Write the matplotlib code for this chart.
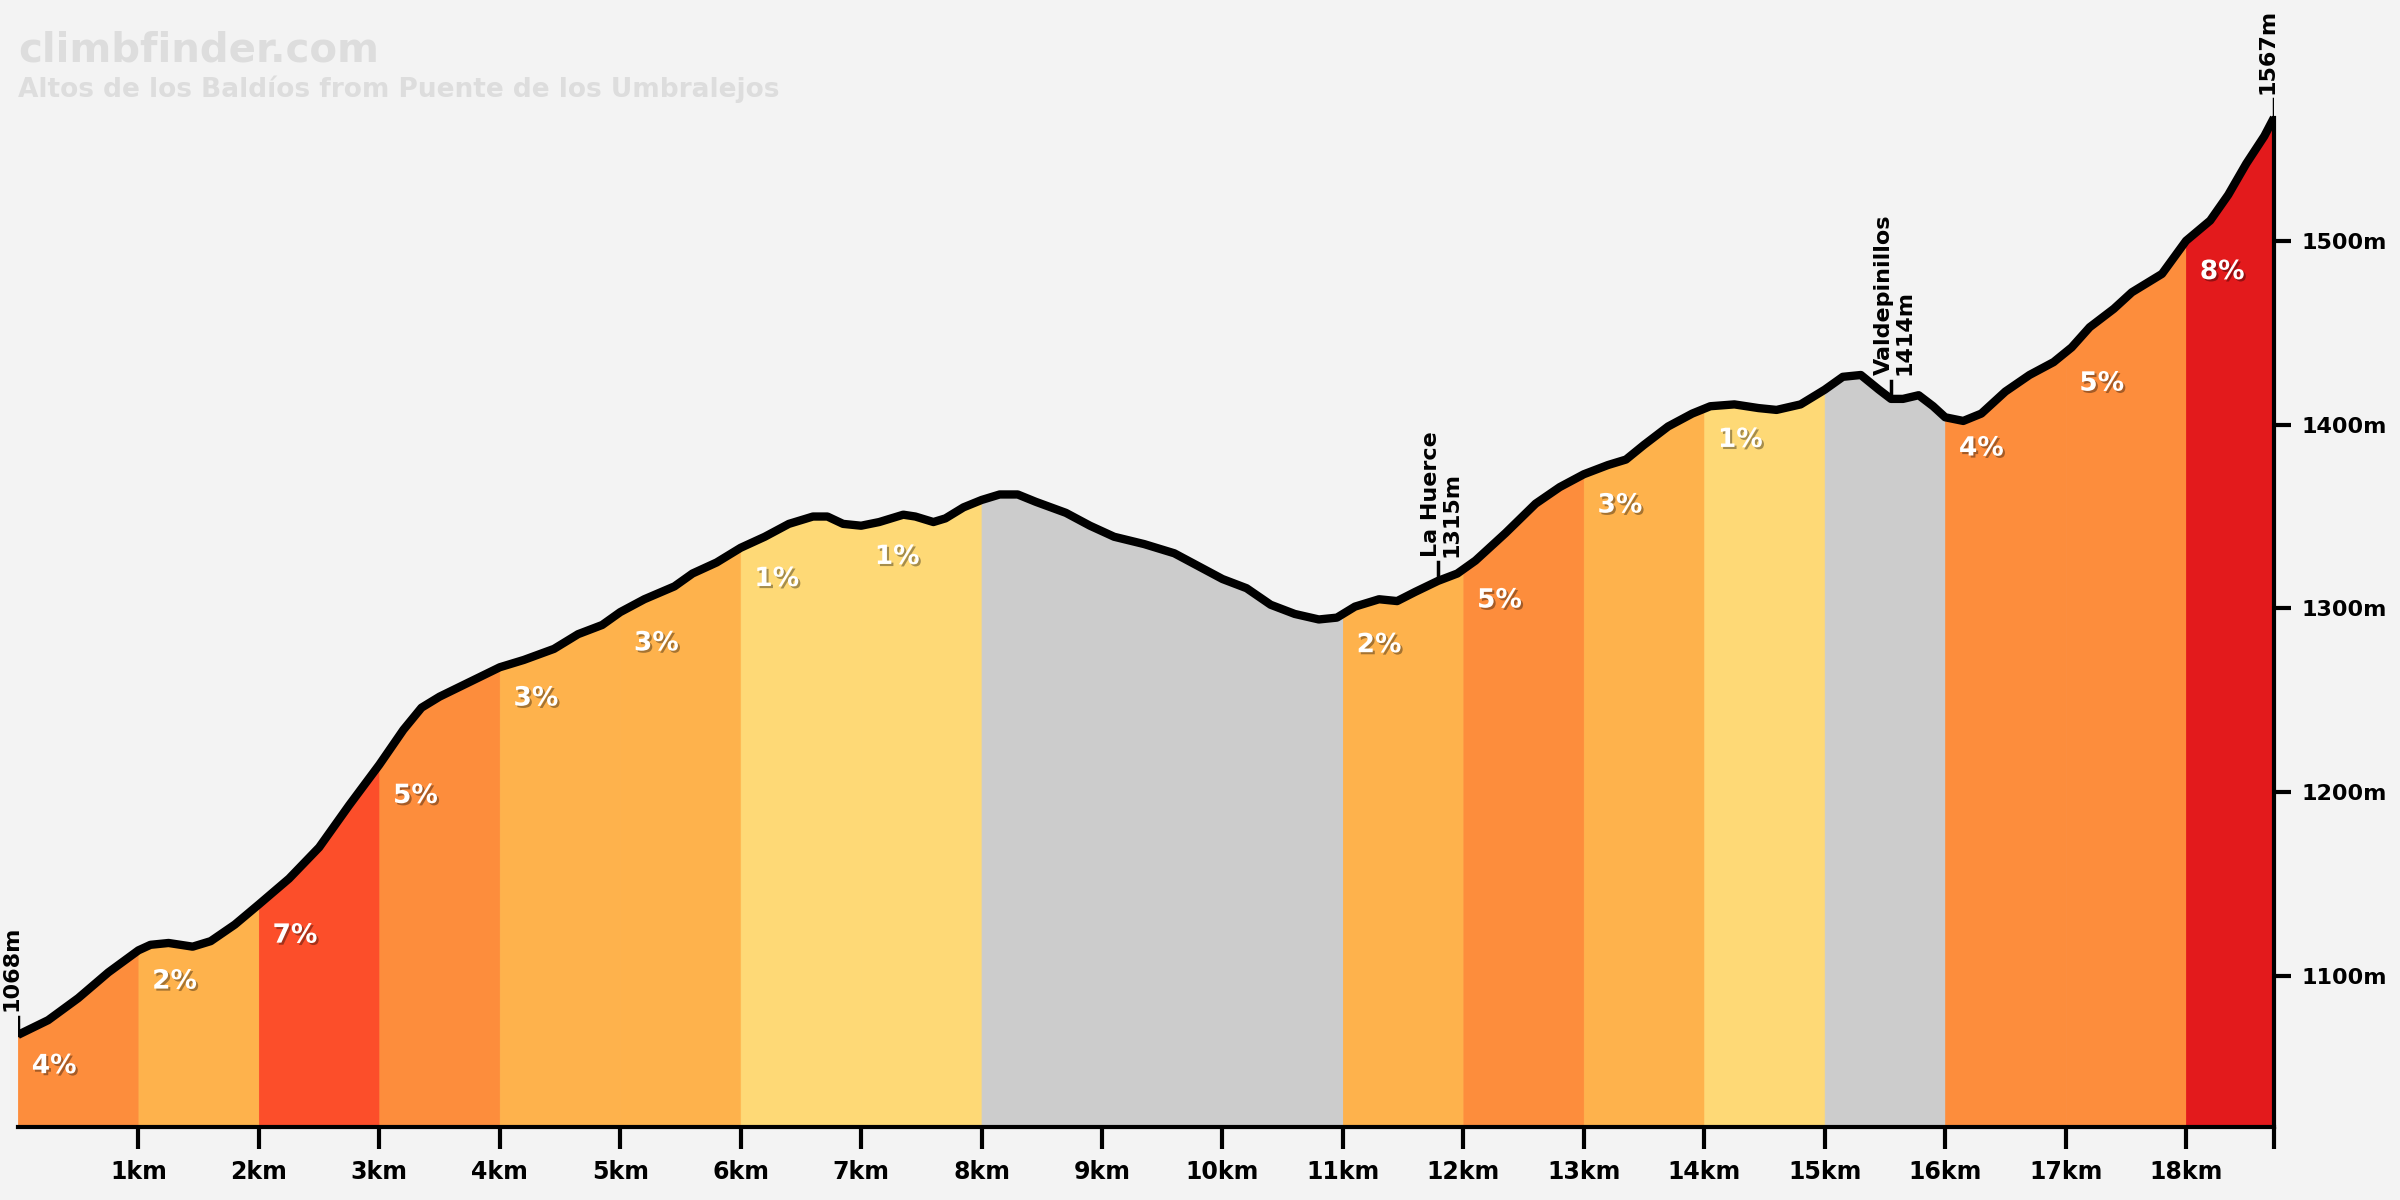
import numpy as np
import matplotlib
matplotlib.use('Agg')
import matplotlib.pyplot as plt
import matplotlib.patheffects as pe

# elevation profile (km, m)
dist = [0.0, 0.25, 0.5, 0.75, 1.0, 1.1, 1.25, 1.45, 1.6, 1.8, 2.0, 2.25, 2.5, 2.75, 3.0,
        3.2, 3.35, 3.5, 3.75, 4.0, 4.2, 4.45, 4.65, 4.85, 5.0, 5.2, 5.45, 5.6, 5.8, 6.0,
        6.2, 6.4, 6.6, 6.72, 6.85, 7.0, 7.15, 7.35, 7.45, 7.6, 7.7, 7.85, 8.0, 8.15, 8.3,
        8.45, 8.7, 8.9, 9.1, 9.35, 9.6, 9.8, 10.0, 10.2, 10.4, 10.6, 10.8, 10.95, 11.1,
        11.3, 11.45, 11.6, 11.79, 11.95, 12.1, 12.35, 12.6, 12.8, 13.0, 13.2, 13.35, 13.5,
        13.7, 13.9, 14.05, 14.25, 14.45, 14.6, 14.8, 15.0, 15.15, 15.3, 15.45, 15.55, 15.65,
        15.78, 15.9, 16.0, 16.15, 16.3, 16.5, 16.7, 16.9, 17.05, 17.2, 17.4, 17.55, 17.8,
        18.0, 18.2, 18.35, 18.5, 18.65, 18.73]
elev = [1068, 1076, 1088, 1102, 1114, 1117, 1118, 1116, 1119, 1128, 1139, 1153, 1170, 1193, 1215,
        1234, 1246, 1252, 1260, 1268, 1272, 1278, 1286, 1291, 1298, 1305, 1312, 1319, 1325, 1333,
        1339, 1346, 1350, 1350, 1346, 1345, 1347, 1351, 1350, 1347, 1349, 1355, 1359, 1362, 1362,
        1358, 1352, 1345, 1339, 1335, 1330, 1323, 1316, 1311, 1302, 1297, 1294, 1295, 1301,
        1305, 1304, 1309, 1315, 1319, 1326, 1341, 1357, 1366, 1373, 1378, 1381, 1389,
        1399, 1406, 1410, 1411, 1409, 1408, 1411, 1419, 1426, 1427, 1419, 1414, 1414,
        1416, 1410, 1404, 1402, 1406, 1418, 1427, 1434, 1442, 1453, 1463, 1472, 1482,
        1500, 1511, 1525, 1542, 1557, 1567]

# gradient per km segment (None = downhill / flat, grey)
grades = [4, 2, 7, 5, 3, 3, 1, 1, None, None, None, 2, 5, 3, 1, None, 4, 5, 8]

# named points
poi_names = ['1068m', 'La Huerce\n1315m', 'Valdepinillos\n1414m', '1567m']
poi_km = [0.0, 11.79, 15.55, 18.73]
poi_elev = [1068, 1315, 1414, 1567]

yticks = [1100, 1200, 1300, 1400, 1500]
xticks = list(range(1, 19))

title = 'climbfinder.com'
subtitle = 'Altos de los Baldíos from Puente de los Umbralejos'


def grade_color(g):
    if g is None or g <= 0:
        return '#CCCCCC'
    if g < 2:
        return '#FED976'
    if g < 4:
        return '#FEB24C'
    if g < 6:
        return '#FD8D3C'
    if g < 8:
        return '#FC4E2A'
    return '#E31A1C'


bg = '#F3F3F3'
ymin, ymax = 1018, 1631
dist = np.array(dist)
elev = np.array(elev, dtype=float)
end_km = dist[-1]

fig = plt.figure(figsize=(24, 12), dpi=100, facecolor=bg)
ax = fig.add_axes([0.0075, 0.061, 0.94, 0.939])
ax.set_facecolor(bg)

for i, g in enumerate(grades):
    a, b = i, min(i + 1, end_km)
    inside = (dist > a) & (dist < b)
    xs = np.concatenate([[a], dist[inside], [b]])
    ys = np.interp(xs, dist, elev)
    c = grade_color(g)
    ax.fill_between(xs, ymin, ys, facecolor=c, edgecolor=c, lw=0.6, zorder=1)
    if g is not None:
        ax.text(a + 0.3, ys[0] - 17, f'{g}%', color='white', fontsize=19, fontweight='bold',
                ha='center', va='center', zorder=4,
                path_effects=[pe.withSimplePatchShadow(offset=(1.5, -1.5), shadow_rgbFace='black', alpha=0.35)])

ax.plot(dist, elev, color='black', lw=6, solid_capstyle='butt', solid_joinstyle='round', zorder=3)

# point markers and labels
for name, km, h in zip(poi_names, poi_km, poi_elev):
    ax.plot([km, km], [h, h + 10], color='black', lw=2.5, zorder=3)
    ax.annotate(name, (km, h + 13), xytext=(-12, 0), textcoords='offset points',
                rotation=90, ha='left', va='bottom', multialignment='left',
                fontsize=16, fontweight='bold', color='black', linespacing=1.0)

ax.set_xlim(0, end_km)
ax.set_ylim(ymin, ymax)

for s in ['top', 'left']:
    ax.spines[s].set_visible(False)
ax.spines['bottom'].set_linewidth(3)
ax.spines['right'].set_linewidth(3)
ax.spines['right'].set_bounds(ymin, elev[-1])

ax.set_xticks(xticks + [end_km])
ax.set_xticklabels([f'{k}km' for k in xticks] + [''])
ax.tick_params(axis='x', length=16, width=3, pad=8, labelsize=17)
ax.yaxis.tick_right()
ax.set_yticks(yticks)
ax.set_yticklabels([f'{v}m' for v in yticks])
ax.tick_params(axis='y', length=12, width=3, pad=8, labelsize=16)
for lab in ax.get_xticklabels() + ax.get_yticklabels():
    lab.set_fontweight('bold')

fig.text(18 / 2400, 1 - 62 / 1200, title, fontsize=29, fontweight='bold', color='#DDDDDD',
         ha='left', va='baseline')
fig.text(18 / 2400, 1 - 97 / 1200, subtitle, fontsize=19, fontweight='bold', color='#DDDDDD',
         ha='left', va='baseline')

fig.savefig('out.png', dpi=100, facecolor=bg)
